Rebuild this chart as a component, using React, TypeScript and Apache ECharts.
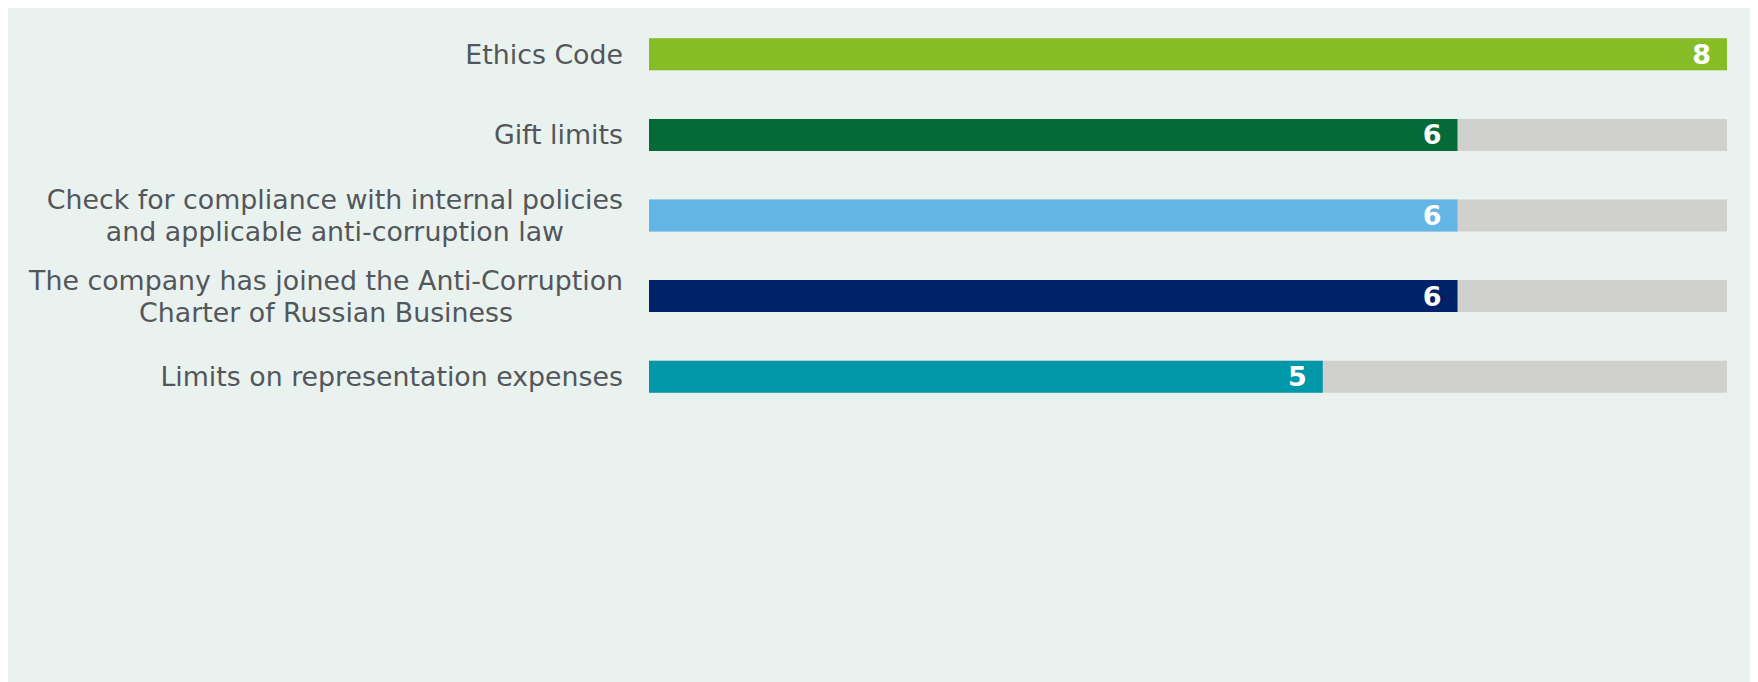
import React, { useEffect, useRef } from "react";
import * as echarts from "echarts";

const categories = [
  "Ethics Code",
  "Gift limits",
  "Check for compliance with internal policies\nand applicable anti-corruption law",
  "The company has joined the Anti-Corruption\nCharter of Russian Business",
  "Limits on representation expenses",
];
const values = [8, 6, 6, 6, 5];
const barColors = ["#86bc25", "#046a38", "#62b5e5", "#012169", "#0097a9"];
const maxValue = 8;

export default function App() {
  const ref = useRef<HTMLDivElement>(null);
  useEffect(() => {
    if (!ref.current) return;
    const chart = echarts.init(ref.current, null, { renderer: "svg" });
    chart.setOption({
      animation: false,
      backgroundColor: "#e9f2ee",
      grid: { left: 641, right: 31, top: 6, bottom: 265, containLabel: false },
      xAxis: {
        type: "value",
        min: 0,
        max: maxValue,
        show: false,
        splitLine: { show: false },
      },
      yAxis: {
        type: "category",
        inverse: true,
        data: categories,
        axisLine: { show: false },
        axisTick: { show: false },
        axisLabel: {
          margin: 26,
          align: "right",
          color: "#53565a",
          fontFamily: "DejaVu Sans",
          fontSize: 26.8,
          lineHeight: 32,
          formatter: (v: string) =>
            v
              .split("\n")
              .map((l) => `{c|${l}}`)
              .join("\n"),
          rich: {
            c: {
              align: "center",
              color: "#53565a",
              fontFamily: "DejaVu Sans",
              fontSize: 26.8,
              lineHeight: 32,
            },
          },
        },
      },
      series: [
        {
          type: "bar",
          barWidth: 32,
          showBackground: true,
          backgroundStyle: { color: "#d0d0ce" },
          data: values.map((v, i) => ({
            value: v,
            itemStyle: { color: barColors[i] },
          })),
          label: {
            show: true,
            position: "insideRight",
            distance: 16,
            color: "#ffffff",
            fontFamily: "DejaVu Sans",
            fontWeight: "bold",
            fontSize: 27,
          },
        },
      ],
    });
    return () => chart.dispose();
  }, []);
  return <div ref={ref} style={{ width: 1750, height: 674 }} />;
}
